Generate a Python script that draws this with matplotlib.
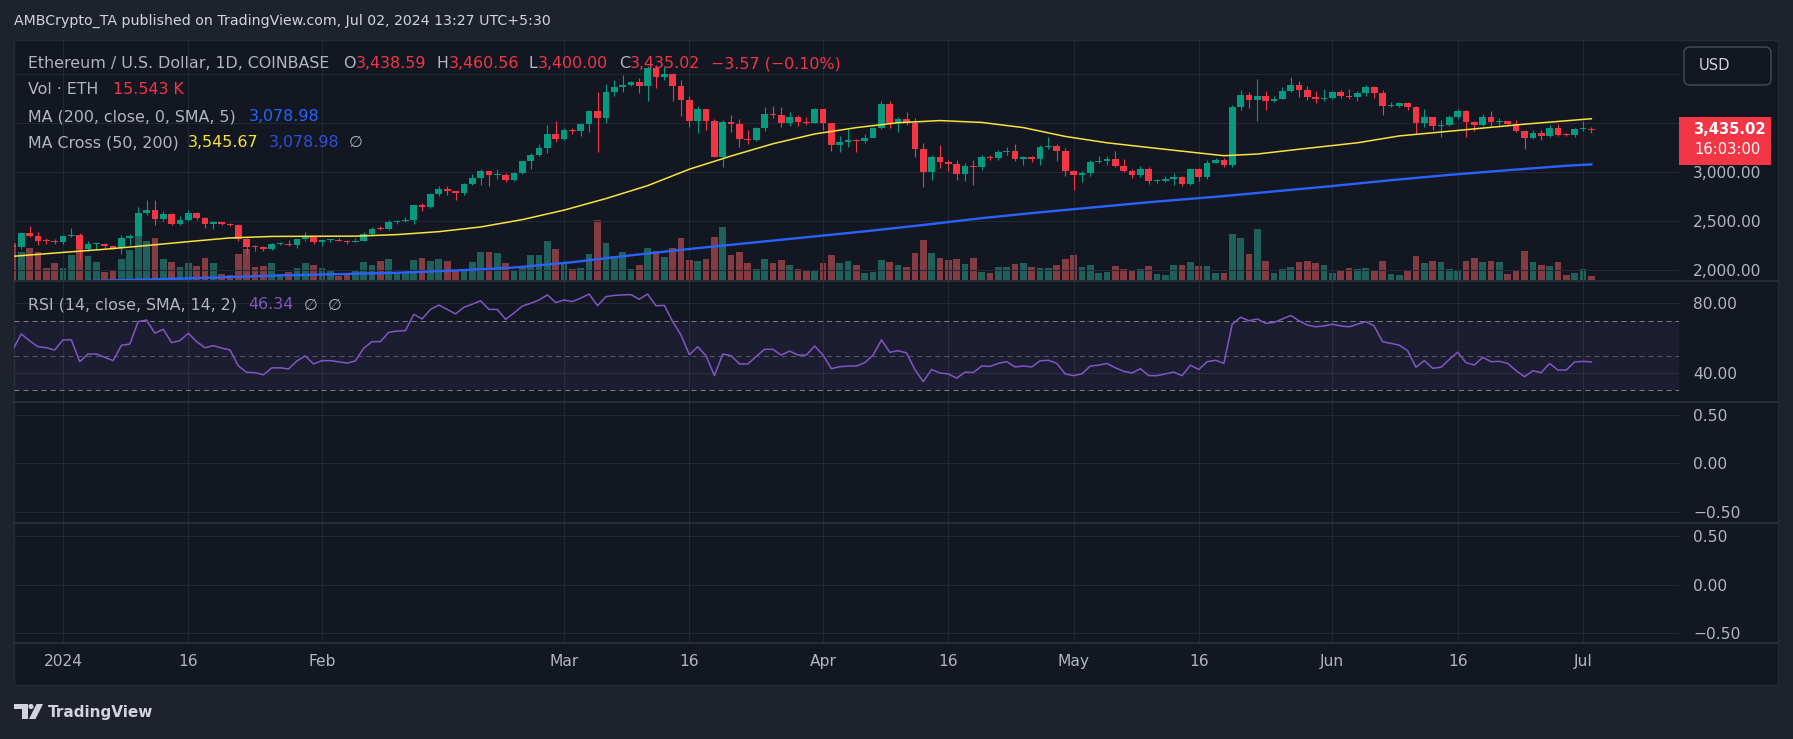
import numpy as np
import pandas as pd
import matplotlib
matplotlib.use("Agg")
import matplotlib.pyplot as plt
from matplotlib.lines import Line2D
from matplotlib.patches import Rectangle, FancyBboxPatch, Polygon, Circle
from matplotlib.transforms import IdentityTransform

# ---------------- data (ETH/USD daily, Coinbase) ----------------
dates = pd.date_range("2023-12-26", "2024-07-02", freq="D")

opens = [
    2255, 2231, 2378, 2345, 2298, 2292,  # Dec 26-31
    2282, 2352, 2356, 2210, 2268, 2270, 2241, 2221, 2331, 2344, 2585, 2617, 2523, 2576, 2472, 2511,
    2587, 2529, 2467, 2489, 2471, 2456, 2313, 2239, 2234, 2217, 2267, 2268, 2257, 2317, 2344,  # Jan
    2283, 2304, 2309, 2296, 2290, 2298, 2373, 2424, 2420, 2486, 2501, 2507, 2660, 2641, 2776, 2824,
    2803, 2785, 2880, 2944, 3015, 2970, 2972, 2922, 2990, 3111, 3178, 3244, 3385,  # Feb
    3341, 3434, 3421, 3487, 3627, 3550, 3816, 3869, 3890, 3918, 3880, 4064, 3977, 4005, 3880, 3737,
    3520, 3643, 3518, 3158, 3516, 3493, 3337, 3329, 3454, 3591, 3588, 3501, 3561, 3511, 3506,  # Mar
    3646, 3504, 3279, 3312, 3330, 3318, 3352, 3448, 3700, 3503, 3544, 3506, 3238, 3000, 3158, 3100,
    3086, 2985, 3065, 3056, 3156, 3148, 3201, 3220, 3136, 3155, 3131, 3256, 3263, 3216,  # Apr
    3014, 2970, 2988, 3103, 3117, 3137, 3064, 3007, 2974, 3036, 2910, 2912, 2930, 2950, 2882, 3036,
    2946, 3095, 3121, 3072, 3665, 3790, 3737, 3780, 3727, 3748, 3826, 3892, 3840, 3768, 3748,  # May
    3762, 3815, 3781, 3767, 3811, 3865, 3812, 3679, 3680, 3706, 3668, 3500, 3560, 3469, 3480, 3565,
    3621, 3510, 3483, 3560, 3513, 3518, 3495, 3420, 3350, 3395, 3373, 3446, 3380, 3377,  # Jun
    3438, 3438.59,  # Jul
]
highs = [
    2280, 2392, 2445, 2385, 2328, 2316,
    2357, 2432, 2383, 2295, 2278, 2277, 2260, 2360, 2370, 2642, 2717, 2717, 2598, 2580, 2550, 2614,
    2592, 2546, 2504, 2491, 2478, 2466, 2325, 2260, 2250, 2278, 2283, 2306, 2322, 2393, 2350,
    2309, 2322, 2324, 2305, 2328, 2393, 2440, 2448, 2516, 2515, 2540, 2665, 2688, 2788, 2860, 2856,
    2806, 2894, 2984, 3033, 3015, 3033, 2990, 3003, 3113, 3197, 3289, 3485, 3523,
    3450, 3451, 3499, 3637, 3823, 3900, 3940, 3995, 3932, 3960, 4085, 4090, 4083, 4010, 3941, 3782,
    3680, 3648, 3539, 3535, 3587, 3545, 3433, 3461, 3668, 3676, 3665, 3611, 3587, 3565, 3658,
    3650, 3505, 3367, 3445, 3336, 3393, 3459, 3727, 3726, 3565, 3616, 3554, 3302, 3176, 3276, 3127,
    3123, 3095, 3129, 3180, 3175, 3222, 3260, 3291, 3170, 3167, 3274, 3355, 3286, 3250,
    3022, 3015, 3120, 3170, 3170, 3220, 3130, 3030, 3058, 3050, 2935, 2957, 2990, 2962, 3042, 3040,
    3120, 3145, 3140, 3690, 3841, 3815, 3950, 3830, 3775, 3875, 3975, 3930, 3885, 3825, 3845,
    3833, 3840, 3850, 3832, 3888, 3878, 3840, 3715, 3712, 3716, 3675, 3650, 3565, 3533, 3580, 3648,
    3635, 3520, 3595, 3625, 3550, 3525, 3528, 3432, 3430, 3430, 3481, 3488, 3403, 3450,
    3525, 3460.56,
]
lows = [
    2166, 2212, 2335, 2260, 2267, 2262,
    2266, 2340, 2105, 2196, 2207, 2215, 2210, 2166, 2251, 2340, 2561, 2460, 2505, 2463, 2462, 2500,
    2510, 2427, 2418, 2462, 2450, 2300, 2168, 2196, 2190, 2202, 2253, 2242, 2230, 2300, 2265,
    2245, 2290, 2294, 2266, 2282, 2294, 2348, 2408, 2412, 2470, 2490, 2475, 2600, 2632, 2760, 2762,
    2716, 2768, 2868, 2872, 2860, 2930, 2895, 2907, 2980, 3036, 3162, 3196, 3303,
    3330, 3390, 3365, 3411, 3210, 3500, 3780, 3823, 3884, 3806, 3723, 3863, 3938, 3725, 3570, 3463,
    3405, 3430, 3155, 3056, 3413, 3256, 3289, 3319, 3420, 3558, 3465, 3468, 3474, 3486, 3505,
    3426, 3215, 3206, 3260, 3205, 3301, 3346, 3436, 3452, 3415, 3478, 3155, 2852, 2915, 3044, 3010,
    2918, 2914, 2865, 3025, 3124, 3128, 3176, 3110, 3075, 3106, 3074, 3235, 3115, 2960,
    2815, 2895, 2958, 3090, 3070, 3050, 3000, 2937, 2951, 2880, 2890, 2903, 2865, 2862, 2865, 2912,
    2930, 3090, 3048, 3050, 3630, 3660, 3520, 3630, 3712, 3743, 3820, 3772, 3742, 3702, 3726,
    3752, 3757, 3750, 3730, 3778, 3761, 3580, 3666, 3668, 3640, 3390, 3465, 3430, 3363, 3475, 3545,
    3360, 3420, 3475, 3465, 3465, 3470, 3413, 3240, 3335, 3325, 3355, 3370, 3370, 3363,
    3420, 3400.00,
]
closes = [
    2231, 2378, 2345, 2298, 2292, 2282,
    2352, 2356, 2210, 2269, 2270, 2241, 2221, 2331, 2344, 2585, 2617, 2523, 2576, 2472, 2511, 2587,
    2529, 2467, 2489, 2471, 2456, 2313, 2239, 2234, 2217, 2267, 2268, 2257, 2317, 2344, 2283,
    2304, 2309, 2296, 2290, 2298, 2373, 2424, 2420, 2486, 2501, 2507, 2660, 2641, 2776, 2824, 2803,
    2785, 2880, 2944, 3015, 2970, 2972, 2922, 2990, 3111, 3178, 3244, 3385, 3341,
    3434, 3421, 3487, 3627, 3550, 3816, 3869, 3890, 3918, 3880, 4064, 3977, 4005, 3880, 3737, 3520,
    3643, 3518, 3158, 3516, 3493, 3337, 3329, 3454, 3591, 3588, 3501, 3561, 3511, 3506, 3646,
    3504, 3279, 3312, 3330, 3318, 3352, 3448, 3700, 3503, 3544, 3506, 3238, 3000, 3158, 3100, 3086,
    2985, 3065, 3056, 3156, 3148, 3201, 3220, 3136, 3155, 3131, 3256, 3263, 3216, 3014,
    2970, 2988, 3103, 3117, 3137, 3064, 3007, 2974, 3036, 2910, 2912, 2930, 2950, 2882, 3036, 2946,
    3095, 3121, 3072, 3665, 3790, 3737, 3780, 3727, 3748, 3826, 3892, 3840, 3768, 3748, 3762,
    3815, 3781, 3767, 3811, 3865, 3812, 3679, 3680, 3706, 3668, 3500, 3560, 3469, 3480, 3565, 3621,
    3510, 3483, 3560, 3513, 3518, 3495, 3420, 3350, 3395, 3373, 3446, 3380, 3377, 3438,
    3438.59, 3435.02,
]
# volume, thousands of ETH
volume_k = [
    148, 112, 128, 111, 48, 68,
    48, 100, 144, 96, 72, 32, 36, 84, 120, 208, 156, 168, 84, 72, 52, 68,
    56, 88, 68, 24, 20, 104, 124, 52, 56, 68, 24, 32, 48, 68, 60,
    48, 40, 16, 24, 36, 72, 60, 76, 84, 32, 32, 80, 88, 76, 84, 76,
    40, 40, 72, 112, 112, 108, 68, 36, 56, 100, 100, 156, 124,
    72, 44, 48, 104, 240, 148, 96, 112, 44, 60, 128, 116, 92, 128, 168, 80,
    76, 84, 172, 212, 100, 112, 68, 44, 84, 68, 80, 60, 44, 36, 40,
    68, 100, 68, 76, 60, 28, 32, 80, 72, 60, 52, 108, 160, 108, 88, 80,
    84, 64, 88, 32, 28, 52, 52, 64, 68, 52, 48, 48, 60, 84,
    100, 52, 60, 28, 32, 56, 44, 40, 44, 56, 24, 20, 60, 60, 72, 56,
    56, 28, 28, 184, 168, 104, 204, 76, 28, 44, 52, 72, 76, 68, 60,
    28, 36, 48, 44, 48, 40, 76, 24, 20, 36, 96, 68, 76, 72, 44, 36,
    76, 88, 72, 76, 72, 24, 36, 116, 72, 60, 56, 72, 20, 28,
    44, 15.543,
]
rsi = [
    53.5, 62.4, 58.5, 55.1, 54.5, 53.2,
    59.0, 59.0, 46.5, 50.9, 50.9, 49.0, 47.1, 55.9, 56.6, 69.5, 70.4, 62.8, 65.1, 57.4, 58.6, 62.8,
    58.0, 54.5, 55.7, 54.3, 53.2, 44.0, 40.4, 40.2, 39.0, 42.9, 43.0, 42.3, 46.9, 49.8, 45.2,
    47.1, 47.1, 46.4, 45.7, 46.9, 54.2, 58.0, 58.0, 63.3, 64.1, 64.3, 73.7, 71.0, 76.5, 79.0, 76.5,
    73.9, 77.7, 79.5, 81.5, 76.5, 76.5, 70.8, 74.5, 78.4, 80.0, 81.9, 84.8, 80.4,
    81.9, 81.0, 83.0, 85.3, 78.6, 83.8, 84.5, 84.8, 85.0, 82.3, 85.3, 78.6, 78.8, 69.5, 61.8, 50.5,
    55.1, 49.8, 38.5, 50.9, 49.9, 45.2, 45.2, 49.5, 53.6, 53.6, 50.3, 52.6, 50.3, 50.3, 55.5,
    50.3, 42.5, 43.6, 44.0, 44.0, 45.9, 50.3, 59.0, 51.9, 52.8, 51.5, 42.0, 35.0, 42.0, 40.0, 39.5,
    37.0, 40.5, 40.3, 44.0, 43.8, 45.5, 46.5, 43.5, 44.0, 43.5, 47.0, 47.3, 45.5, 39.5,
    38.5, 39.5, 44.0, 44.5, 45.5, 43.0, 41.0, 40.0, 42.5, 38.5, 38.5, 39.5, 40.5, 38.5, 44.5, 42.0,
    46.5, 47.3, 45.5, 68.0, 72.0, 70.0, 71.0, 68.5, 69.0, 71.0, 73.0, 70.0, 67.5, 66.5, 67.0,
    68.0, 67.0, 66.5, 68.0, 69.5, 67.0, 58.0, 57.0, 56.0, 52.8, 43.3, 47.1, 42.7, 43.3, 47.8, 51.9,
    45.9, 44.6, 49.0, 46.5, 46.7, 45.5, 41.3, 37.9, 41.3, 40.2, 45.5, 41.7, 41.7, 46.3,
    46.7, 46.34,
]

# moving averages
ma50_dates = ["2023-12-26", "2024-01-01", "2024-01-06", "2024-01-11", "2024-01-16", "2024-01-21",
              "2024-01-26", "2024-01-31", "2024-02-05", "2024-02-10", "2024-02-15", "2024-02-20",
              "2024-02-25", "2024-03-01", "2024-03-06", "2024-03-11", "2024-03-16", "2024-03-21",
              "2024-03-26", "2024-03-31", "2024-04-05", "2024-04-10", "2024-04-15", "2024-04-20",
              "2024-04-25", "2024-04-30", "2024-05-05", "2024-05-10", "2024-05-15", "2024-05-19",
              "2024-05-23", "2024-05-28", "2024-06-04", "2024-06-09", "2024-06-14", "2024-06-19",
              "2024-06-24", "2024-06-29", "2024-07-02"]
ma50_vals = [2140, 2180, 2212, 2250, 2290, 2328, 2343, 2345, 2346, 2362, 2392, 2440,
             2515, 2612, 2730, 2862, 3030, 3165, 3290, 3390, 3455, 3505, 3527, 3508,
             3455, 3365, 3300, 3252, 3205, 3168, 3185, 3234, 3300, 3370, 3410, 3450,
             3490, 3525, 3545.67]
ma200_dates = ["2023-12-26", "2024-01-01", "2024-01-09", "2024-01-16", "2024-01-20", "2024-01-27",
               "2024-02-03", "2024-02-10", "2024-02-17", "2024-02-24", "2024-03-02", "2024-03-09",
               "2024-03-16", "2024-03-23", "2024-03-30", "2024-04-06", "2024-04-13", "2024-04-20",
               "2024-04-27", "2024-05-04", "2024-05-11", "2024-05-18", "2024-05-25", "2024-06-01",
               "2024-06-08", "2024-06-15", "2024-06-22", "2024-06-29", "2024-07-02"]
ma200_vals = [1855, 1880, 1898, 1915, 1925, 1945, 1958, 1972, 1995, 2025, 2080, 2150,
              2215, 2275, 2335, 2395, 2460, 2530, 2590, 2645, 2700, 2748, 2803, 2858,
              2918, 2972, 3020, 3065, 3078.98]

tick_dates = ["2024-01-01", "2024-01-16", "2024-02-01", "2024-03-01", "2024-03-16", "2024-04-01",
              "2024-04-16", "2024-05-01", "2024-05-16", "2024-06-01", "2024-06-16", "2024-07-01"]
tick_labels = ["2024", "16", "Feb", "Mar", "16", "Apr", "16", "May", "16", "Jun", "16", "Jul"]

price_ticks = [2000, 2500, 3000, 3500, 4000]

# ---------------- style ----------------
W, H = 1793, 739
BG_OUT = "#1e222d"
BG = "#131722"
GRID = "#242834"
SEP = "#2e323e"
TXT = "#b2b5be"
GREEN = "#089981"
RED = "#f23645"
GREEN_VOL = "#20605b"
RED_VOL = "#843b42"
YELLOW = "#f7e33c"
BLUE = "#2962ff"
PURPLE = "#7e57c2"

plt.rcParams["font.family"] = ["DejaVu Sans"]
plt.rcParams["lines.scale_dashes"] = False

ORIGIN = pd.Timestamp("2024-01-01")


def day(d):
    return (pd.to_datetime(d) - ORIGIN).days


x = np.asarray((dates - ORIGIN).days, dtype=float)
o = np.array(opens, dtype=float)
hi = np.array(highs, dtype=float)
lo = np.array(lows, dtype=float)
c = np.array(closes, dtype=float)
up = c >= o

fig = plt.figure(figsize=(W / 100, H / 100), dpi=100, facecolor=BG_OUT)
PIX = IdentityTransform()


def fx(px):
    return px / W


def fy(py):
    return 1 - py / H


# chart frame
fig.add_artist(Rectangle((14, H - 685), 1778 - 14, 685 - 40, transform=PIX,
                         facecolor=BG, edgecolor="#262a35", lw=1, zorder=-10))

PL, PR = 14, 1679
XMIN, XMAX = -5.87, 193.5


def pane(top, bottom):
    ax = fig.add_axes([fx(PL), fy(bottom), fx(PR) - fx(PL), (bottom - top) / H])
    ax.set_facecolor("none")
    for s in ax.spines.values():
        s.set_visible(False)
    ax.set_xlim(XMIN, XMAX)
    return ax


ax_vol = pane(41, 280)
ax = pane(41, 280)
ax_rsi = pane(280, 402)
ax_p3 = pane(402, 523)
ax_p4 = pane(523, 643)

tick_x = [day(d) for d in tick_dates]
for a in (ax, ax_rsi, ax_p3, ax_p4):
    a.set_xticks(tick_x)
    a.set_xticklabels(tick_labels)
    a.grid(True, color=GRID, lw=0.75)
    a.set_axisbelow(True)
    a.yaxis.tick_right()
    a.tick_params(axis="both", length=0, labelcolor=TXT, labelsize=11.2)
    a.tick_params(axis="y", pad=10)
    a.tick_params(axis="x", labelbottom=False)
ax_p4.tick_params(axis="x", labelbottom=True, pad=8)

# volume underlay
ax_vol.axis("off")
ax_vol.set_ylim(0, 956)
ax_vol.bar(x, volume_k, width=0.8, color=np.where(up, GREEN_VOL, RED_VOL), lw=0)

# candles
ax.set_ylim(1898, 4340)
ax.set_yticks(price_ticks)
# the 4,000.00 label sits under the USD button in the original, so it is left blank
ax.set_yticklabels([f"{v:,.2f}" if v < 4000 else "" for v in price_ticks])
col = np.where(up, GREEN, RED)
ax.vlines(x, lo, hi, colors=col, lw=0.8, zorder=3)
body_lo = np.minimum(o, c)
body_h = np.maximum(np.abs(c - o), 10)
ax.bar(x, body_h, bottom=body_lo, width=0.8, color=col, lw=0, zorder=3.5)
ax.plot([day(d) for d in ma50_dates], ma50_vals, color=YELLOW, lw=1.1, zorder=4)
ax.plot([day(d) for d in ma200_dates], ma200_vals, color=BLUE, lw=1.7, zorder=4)

# RSI
ax_rsi.set_ylim(23.36, 93.37)
ax_rsi.set_yticks([40, 80])
ax_rsi.set_yticklabels(["40.00", "80.00"])
ax_rsi.axhspan(30, 70, color=PURPLE, alpha=0.1, lw=0)
for lvl, al in ((70, 1.0), (50, 0.6), (30, 1.0)):
    ax_rsi.axhline(lvl, color="#787b86", lw=0.75, alpha=al, ls=(0, (3.6, 2.9)))
ax_rsi.plot(x, rsi, color=PURPLE, lw=1.1, zorder=4)

# empty panes
for a, lim in ((ax_p3, (-0.617, 0.634)), (ax_p4, (-0.603, 0.6375))):
    a.set_ylim(*lim)
    a.set_yticks([-0.5, 0, 0.5])
    a.set_yticklabels(["\u22120.50", "0.00", "0.50"])

# pane separators
for yy in (281, 402, 523, 643):
    fig.add_artist(Line2D([14, 1778], [H - yy, H - yy], transform=PIX, color=SEP, lw=1.1))

# header
fig.text(fx(14), fy(20.5), "AMBCrypto_TA published on TradingView.com, Jul 02, 2024 13:27 UTC+5:30",
         color="#d1d4dc", fontsize=10.2, va="center")


def legend(px, py, s, color, size=11.4):
    fig.text(fx(px), fy(py), s, color=color, fontsize=size, va="center", ha="left", zorder=12)


legend(27.6, 64, "Ethereum / U.S. Dollar, 1D, COINBASE", TXT)
for lab, lx, val, vx in (("O", 342.7, "3,438.59", 356), ("H", 436, "3,460.56", 449),
                         ("L", 528, "3,400.00", 538), ("C", 619, "3,435.02", 630)):
    legend(lx, 64, lab, TXT)
    legend(vx, 64, val, RED)
legend(711, 64, "\u22123.57 (\u22120.10%)", RED)
legend(27.6, 90, "Vol \u00b7 ETH", TXT)
legend(113, 90, "15.543 K", RED)
legend(27.6, 116.5, "MA (200, close, 0, SMA, 5)", TXT)
legend(248.6, 116.5, "3,078.98", BLUE)
legend(27.6, 142.5, "MA Cross (50, 200)", TXT)
legend(187.7, 142.5, "3,545.67", YELLOW)
legend(268.7, 142.5, "3,078.98", "#2f4fd6")
legend(349, 142.5, "\u2205", TXT)
legend(27.6, 305, "RSI (14, close, SMA, 14, 2)", TXT)
legend(248.6, 305, "46.34", PURPLE)
legend(304, 305, "\u2205", TXT)
legend(328, 305, "\u2205", TXT)

# USD box
fig.add_artist(FancyBboxPatch((1684, H - 85), 87, 38, boxstyle="round,pad=0,rounding_size=6",
                              transform=PIX, facecolor=BG, edgecolor="#434651", lw=1.1, zorder=10))
fig.text(fx(1699), fy(65), "USD", color="#d1d4dc", fontsize=10.6, va="center", zorder=11)

# last price label
fig.add_artist(Rectangle((1679, H - 165), 92, 48, transform=PIX, facecolor=RED, lw=0, zorder=10))
fig.text(fx(1693), fy(130), "3,435.02", color="white", fontsize=10.6, fontweight="bold",
         va="center", zorder=11)
fig.text(fx(1694), fy(150), "16:03:00", color="white", fontsize=10.6, va="center", zorder=11)

# footer logo
LOGO = "#d1d4dc"
fig.add_artist(Polygon([(14, H - 704), (27.5, H - 704), (27.5, H - 719), (22, H - 719),
                        (22, H - 709), (14, H - 709)], closed=True, transform=PIX,
                       facecolor=LOGO, lw=0))
fig.add_artist(Circle((31, H - 706.5), 2.6, transform=PIX, facecolor=LOGO, lw=0))
fig.add_artist(Polygon([(29, H - 719), (35.5, H - 719), (43, H - 704), (36.5, H - 704)],
                       closed=True, transform=PIX, facecolor=LOGO, lw=0))
fig.text(fx(48), fy(712), "TradingView", color=LOGO, fontsize=11, fontweight="bold", va="center")

fig.savefig("out.png", dpi=100, facecolor=BG_OUT)
